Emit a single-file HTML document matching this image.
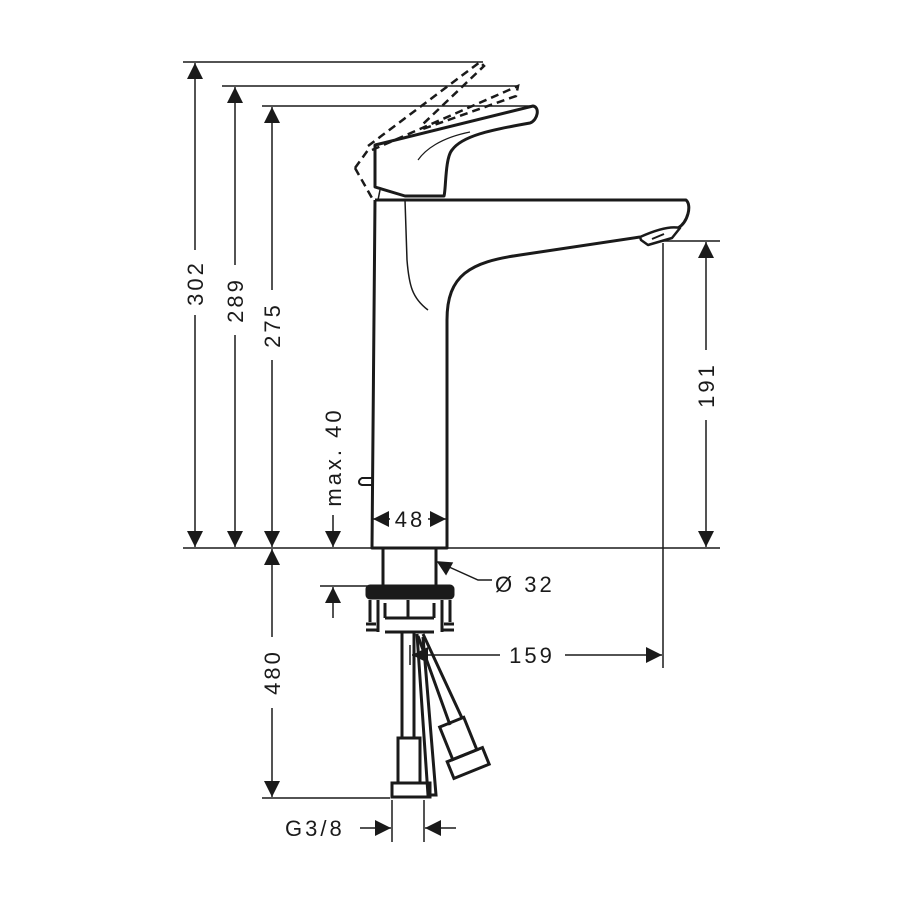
<!DOCTYPE html>
<html><head><meta charset="utf-8"><style>html,body{margin:0;padding:0;background:#fff}svg{display:block}text{font-family:"Liberation Sans",sans-serif;font-size:22px;fill:#1a1a1a;letter-spacing:3px}</style></head>
<body>
<svg width="900" height="900" viewBox="0 0 900 900" xmlns="http://www.w3.org/2000/svg">
<defs>
<marker id="a" viewBox="0 0 10 10" refX="10" refY="5" markerWidth="16" markerHeight="16" markerUnits="userSpaceOnUse" orient="auto"><path d="M0,0 L10,5 L0,10 z" fill="#1a1a1a"/></marker>
</defs>
<g stroke="#1a1a1a" stroke-width="1.5" fill="none">
<line x1="183" y1="62" x2="483" y2="62"/>
<line x1="222" y1="86" x2="518" y2="86"/>
<line x1="262" y1="106" x2="535" y2="106"/>
<line x1="183" y1="548" x2="372" y2="548"/>
<line x1="447" y1="548" x2="720" y2="548"/>
<line x1="660" y1="241" x2="720" y2="241"/>
<line x1="663" y1="243" x2="663" y2="668"/>
<line x1="262" y1="798" x2="390" y2="798"/>
<line x1="320" y1="586" x2="368" y2="586"/>
<line x1="392" y1="800" x2="392" y2="842"/>
<line x1="424" y1="800" x2="424" y2="842"/>
<line x1="195" y1="250" x2="195" y2="63" marker-end="url(#a)"/>
<line x1="195" y1="315" x2="195" y2="547" marker-end="url(#a)"/>
<line x1="235" y1="265" x2="235" y2="87" marker-end="url(#a)"/>
<line x1="235" y1="335" x2="235" y2="547" marker-end="url(#a)"/>
<line x1="272" y1="290" x2="272" y2="107" marker-end="url(#a)"/>
<line x1="272" y1="360" x2="272" y2="547" marker-end="url(#a)"/>
<line x1="272" y1="637" x2="272" y2="549" marker-end="url(#a)"/>
<line x1="272" y1="708" x2="272" y2="797" marker-end="url(#a)"/>
<line x1="706" y1="350" x2="706" y2="242" marker-end="url(#a)"/>
<line x1="706" y1="420" x2="706" y2="547" marker-end="url(#a)"/>
<line x1="333" y1="515" x2="333" y2="547" marker-end="url(#a)"/>
<line x1="333" y1="618" x2="333" y2="587" marker-end="url(#a)"/>
<line x1="500" y1="655" x2="412" y2="655" marker-end="url(#a)"/>
<line x1="565" y1="655" x2="662" y2="655" marker-end="url(#a)"/>
<line x1="410" y1="645" x2="410" y2="665"/>
<line x1="360" y1="828" x2="391" y2="828" marker-end="url(#a)"/>
<line x1="456" y1="828" x2="425" y2="828" marker-end="url(#a)"/>
<line x1="390" y1="519" x2="373" y2="519" marker-end="url(#a)"/>
<line x1="428" y1="519" x2="446" y2="519" marker-end="url(#a)"/>
<polyline points="492,580 478,580 438,562" />
<path d="M438,562 l14,1 l-6,11 z" fill="#1a1a1a"/>
</g>
<g stroke="#1a1a1a" stroke-width="3" fill="none" stroke-linejoin="round">
<path d="M375,200 L372,548 L447,548 L447,320 C447,275 470,262 520,255 L640,237"/>
<path d="M375,200 L686,200 C692,205 688,222 678,228"/>
<path d="M640,237 C660,228 672,226 680,228 L672,238 L648,245 L641,240 Z" stroke-width="2.5"/>
<line x1="652" y1="239" x2="664" y2="234" stroke-width="2"/>
<path d="M405,200 L407,260 C409,285 412,298 428,310" stroke-width="1.5"/>
<path d="M372,478 L362,478 C358,480 358,484 362,485 L372,485" stroke-width="2"/>
<path d="M375,145 L533,106 C540,107 538,120 530,123 C490,130 462,136 452,150 C445,158 446,190 444,196 L405,196 L375,187 Z"/>
<path d="M418,160 C425,150 440,138 470,132" stroke-width="1.2"/>
<path d="M380,190 L378,200" stroke-width="1.5"/>
</g>
<g stroke="#1a1a1a" stroke-width="2.5" fill="none" stroke-dasharray="8,5">
<path d="M368,146 L480,62 L484,66 L422,125"/>
<path d="M355,168 L368,150 M355,168 L372,198"/>
<path d="M372,150 L518,86 L516,96 L420,130"/>
</g>
<g stroke="#1a1a1a" stroke-width="3" fill="none">
<path d="M383,549 L383,586 M436,549 L436,586"/>
<rect x="367" y="586" width="86" height="12" rx="3" fill="#1a1a1a"/>
<path d="M370,600 L370,622 M378,600 L378,632 M442,600 L442,632 M450,600 L450,622 M385,603 L385,618 M434,603 L434,618 M385,618 L434,618 M385,632 L434,632 M408,600 L408,618"/>
<path d="M366,624 L376,624 M444,624 L454,624 M366,630 L378,630 M442,630 L454,630"/>
<path d="M402,632 L402,738 M414,632 L414,738 M400,632 L420,632"/>
<path d="M417,634 L428,795 L436,795 L423,637"/>
<path d="M418,636 L450,725 M423,634 L462,718"/>
<rect x="398" y="738" width="22" height="45"/>
<rect x="392" y="783" width="38" height="14"/>
<g transform="rotate(-22 462 745)"><rect x="448" y="720" width="26" height="35"/><rect x="442" y="755" width="38" height="18"/></g>
</g>
<g>
<text transform="translate(203,283) rotate(-90)" text-anchor="middle">302</text>
<text transform="translate(243,300) rotate(-90)" text-anchor="middle">289</text>
<text transform="translate(280,325) rotate(-90)" text-anchor="middle">275</text>
<text transform="translate(341,457) rotate(-90)" text-anchor="middle">max. 40</text>
<text transform="translate(714,385) rotate(-90)" text-anchor="middle">191</text>
<text transform="translate(280,672) rotate(-90)" text-anchor="middle">480</text>
<text x="410" y="527" text-anchor="middle">48</text>
<text x="495" y="592">Ø 32</text>
<text x="532" y="663" text-anchor="middle">159</text>
<text x="285" y="836">G3/8</text>
</g>
</svg>
</body></html>
